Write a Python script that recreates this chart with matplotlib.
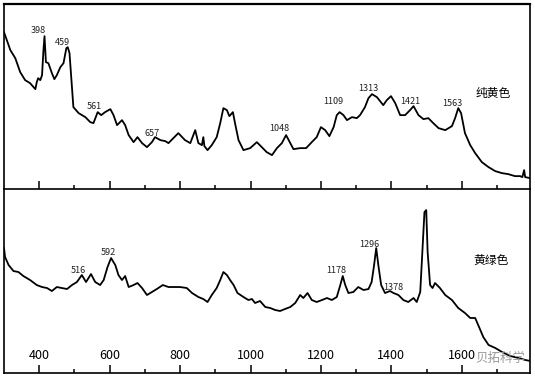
import matplotlib.pyplot as plt
import numpy as np

plt.rcParams['font.family'] = ['Noto Sans CJK SC', 'DejaVu Sans']

# 纯黄色 spectrum (wavenumber, intensity)
wn_yellow = [300, 318, 332, 346, 360, 374, 389, 393, 397, 403, 408, 412, 415, 419, 426, 436,
             443, 450, 460, 469, 477, 481, 486, 491, 497, 512, 531, 545, 554, 566, 576, 587,
             602, 611, 621, 635, 644, 654, 668, 679, 692, 706, 720, 729, 744, 758, 767, 781,
             795, 814, 829, 843, 852, 862, 866, 869, 878, 890, 904, 914, 923, 933, 940, 950,
             956, 966, 980, 999, 1018, 1032, 1046, 1061, 1075, 1089, 1101, 1113, 1122, 1141,
             1158, 1174, 1188, 1200, 1212, 1224, 1236, 1245, 1253, 1264, 1274, 1288, 1302,
             1311, 1325, 1335, 1345, 1359, 1377, 1387, 1399, 1411, 1425, 1439, 1453, 1463,
             1477, 1491, 1505, 1519, 1534, 1553, 1572, 1581, 1590, 1598, 1609, 1624, 1638,
             1657, 1676, 1695, 1714, 1732, 1751, 1766, 1772, 1777, 1780, 1794]
int_yellow = [157, 139, 131, 117, 109, 106, 100, 107, 111, 109, 114, 139, 153, 127, 126, 116,
              110, 114, 122, 126, 141, 142, 136, 112, 82, 76, 72, 67, 66, 77, 74, 77,
              80, 74, 64, 69, 64, 54, 47, 52, 46, 42, 47, 52, 49, 48, 46, 51,
              56, 49, 46, 59, 46, 44, 52, 43, 39, 44, 52, 66, 81, 79, 73, 77,
              66, 49, 39, 41, 47, 42, 37, 34, 41, 46, 54, 46, 40, 41,
              41, 47, 52, 62, 59, 53, 62, 74, 77, 74, 69, 72, 71,
              74, 82, 91, 95, 92, 84, 89, 93, 86, 74, 74, 79, 83,
              74, 70, 71, 66, 61, 59, 63, 71, 81, 76, 56, 44, 36,
              27, 22, 18, 16, 15, 13, 13, 12, 19, 12, 11]

# 黄绿色 spectrum
wn_green = [300, 303, 313, 327, 341, 355, 374, 393, 408, 422, 436, 450, 464, 479, 493, 507,
            521, 533, 547, 559, 573, 583, 594, 604, 616, 625, 635, 644, 654, 668, 679, 692,
            706, 720, 734, 751, 767, 781, 800, 819, 834, 852, 866, 878, 890, 904, 914, 923,
            933, 942, 952, 963, 980, 994, 1004, 1013, 1027, 1042, 1056, 1070, 1084, 1098,
            1113, 1127, 1141, 1150, 1162, 1174, 1188, 1203, 1217, 1231, 1245, 1255, 1262,
            1269, 1278, 1292, 1306, 1321, 1335, 1344, 1351, 1357, 1363, 1371, 1382, 1396,
            1406, 1420, 1434, 1448, 1463, 1472, 1482, 1488, 1494, 1499, 1503, 1510, 1517,
            1524, 1538, 1553, 1572, 1590, 1609, 1624, 1638, 1649, 1661, 1676, 1695, 1714,
            1737, 1761, 1780, 1794]
int_green = [125, 116, 108, 102, 101, 97, 93, 88, 86, 85, 82, 86, 85, 84, 88, 91,
             98, 91, 99, 91, 88, 93, 106, 115, 108, 98, 93, 97, 86, 88, 90, 85,
             78, 81, 84, 88, 86, 86, 86, 85, 80, 76, 74, 71, 78, 85, 93, 101,
             98, 93, 88, 80, 76, 73, 74, 70, 72, 66, 65, 63, 62, 64,
             66, 70, 78, 75, 80, 73, 71, 73, 75, 73, 76, 88, 97,
             88, 80, 81, 86, 83, 84, 91, 108, 125, 108, 88, 80, 82,
             80, 78, 73, 71, 75, 71, 81, 121, 161, 163, 121, 88, 85,
             90, 85, 78, 73, 65, 60, 55, 55, 46, 36, 28, 25, 21,
             17, 15, 13, 12]

# peak labels
peaks_yellow = ['398', '459', '561', '657', '1048', '1109', '1313', '1421', '1563']
peak_x_yellow = [398, 466, 556, 720, 1082, 1236, 1335, 1455, 1574]
peak_y_yellow = [159, 147, 83, 56, 61, 88, 101, 88, 86]
peaks_green = ['516', '592', '1178', '1296', '1378']
peak_x_green = [510, 597, 1243, 1337, 1406]
peak_y_green = [103, 121, 103, 129, 86]

fig = plt.figure(figsize=(5.35, 3.79), dpi=100)
ax1 = fig.add_axes([0.0075, 0.501, 0.984, 0.488])
ax2 = fig.add_axes([0.0075, 0.016, 0.984, 0.485])

for ax in (ax1, ax2):
    ax.set_xlim(300, 1795)
    ax.set_yticks([])
    ax.set_xticks(np.arange(400, 1800, 200))
    ax.set_xticks(np.arange(500, 1800, 200), minor=True)
    for s in ax.spines.values():
        s.set_linewidth(1.2)
    ax.tick_params(axis='x', which='major', direction='in', length=5.5, width=1.1)
    ax.tick_params(axis='x', which='minor', direction='in', length=3, width=1.1)

ax1.plot(wn_yellow, int_yellow, color='black', lw=1.3, solid_joinstyle='round')
ax1.set_ylim(0, 185)
ax1.tick_params(axis='x', labelbottom=False)
ax1.spines['bottom'].set_visible(False)
ax1.spines['top'].set_linewidth(1.6)
for t, x, y in zip(peaks_yellow, peak_x_yellow, peak_y_yellow):
    ax1.text(x, y, t, fontsize=6.5, ha='center', va='center', color='#222222')
ax1.text(1688, 96, '纯黄色', fontsize=8.5, ha='center', va='center')

ax2.plot(wn_green, int_green, color='black', lw=1.3, solid_joinstyle='round')
ax2.set_ylim(0, 184)
ax2.tick_params(axis='x', which='major', pad=-17, labelsize=9)
for t, x, y in zip(peaks_green, peak_x_green, peak_y_green):
    ax2.text(x, y, t, fontsize=6.5, ha='center', va='center', color='#222222')
ax2.text(1683, 113, '黄绿色', fontsize=8.5, ha='center', va='center')
ax2.text(1710, 15, '贝拓科学', fontsize=9, ha='center', va='center', color='#9a9a9a')

fig.savefig('out.png', dpi=100)
